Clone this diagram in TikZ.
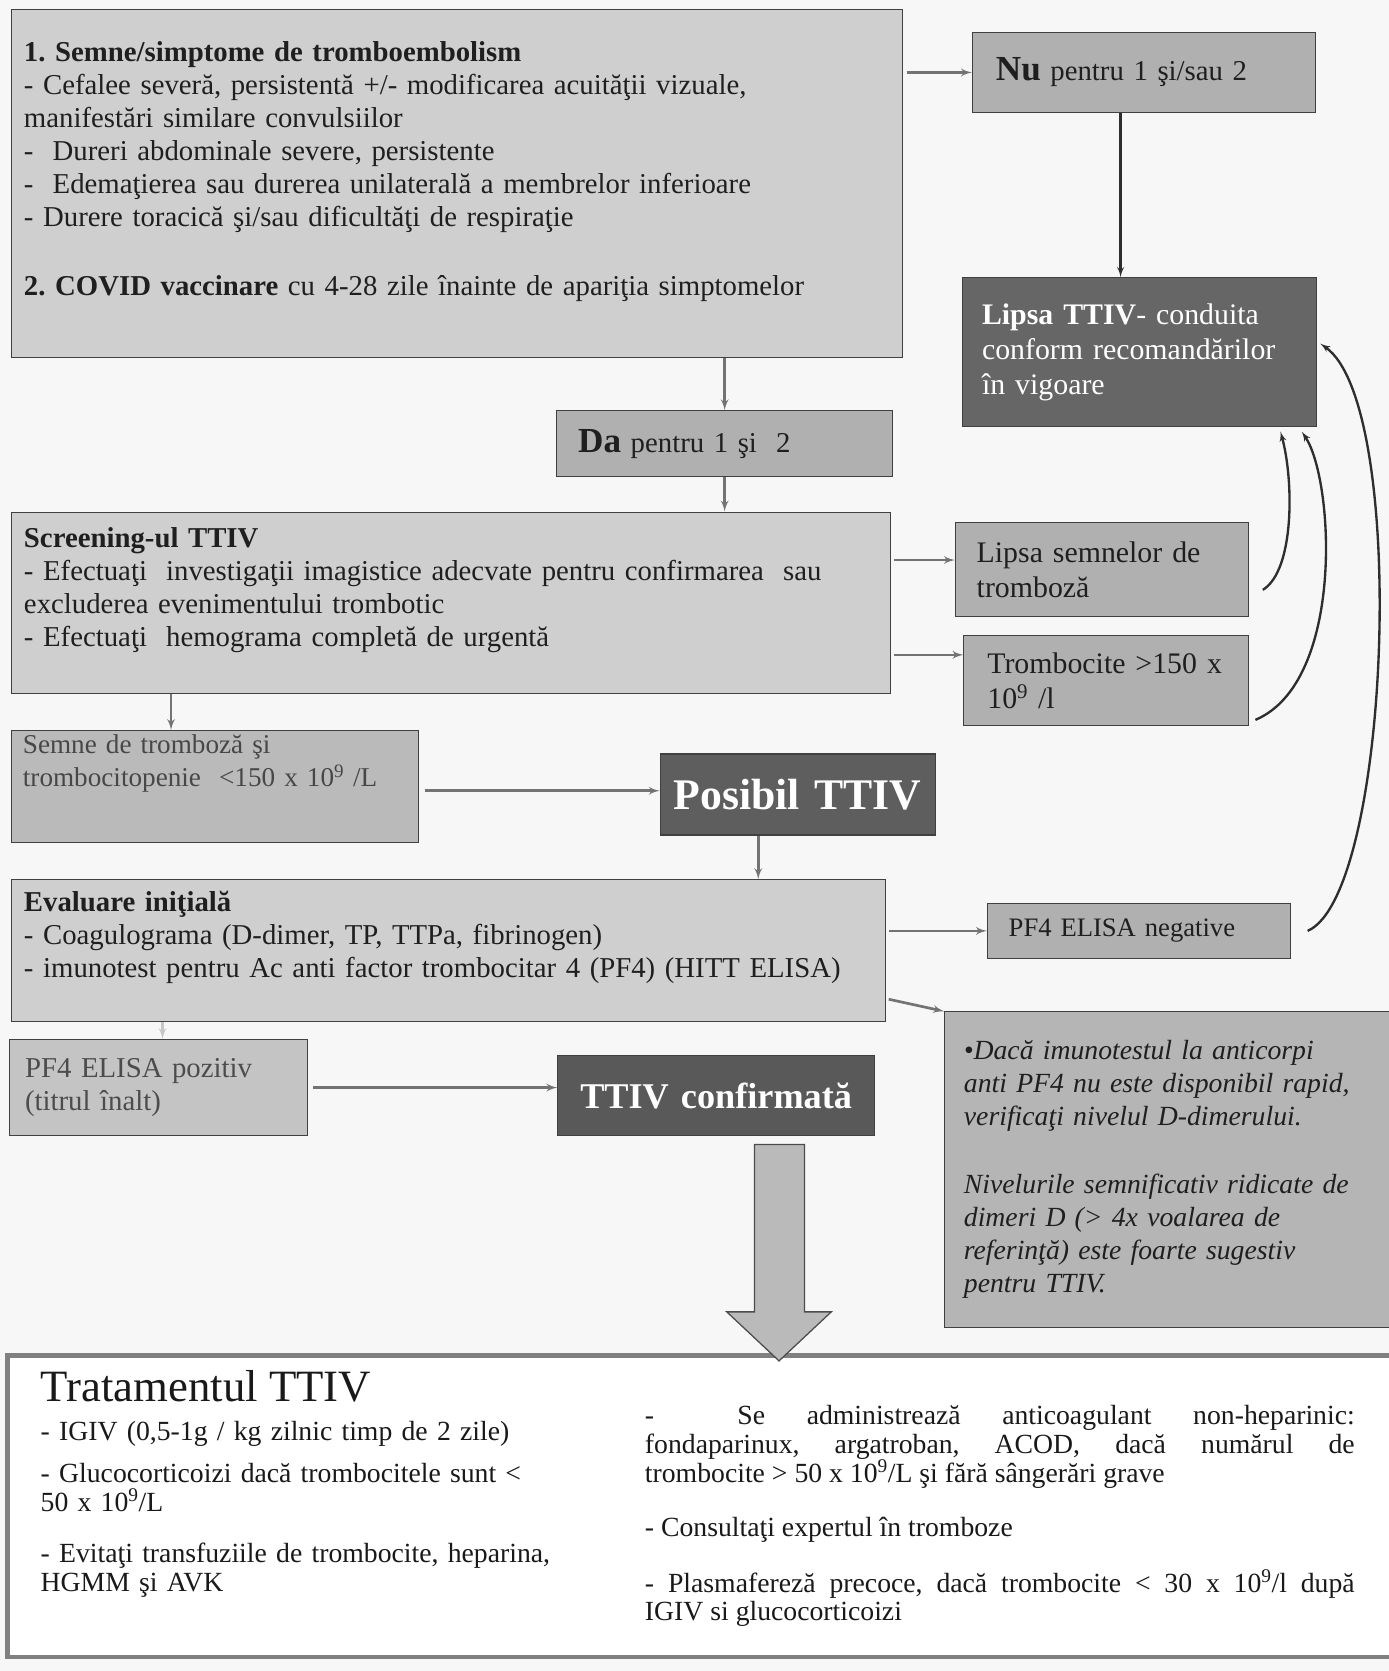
\documentclass[tikz,border=0pt]{standalone}
\usepackage{fontspec}
\setmainfont{Liberation Serif}
\usepackage{tikz}
\usetikzlibrary{arrows}
\frenchspacing

\begin{document}
\begin{tikzpicture}[x=1pt,y=-1pt]
    \tikzset{box/.style = {draw=black!75, line width=1pt, anchor=north west, align=left, inner xsep=12pt, inner ysep=4pt, text=black!88, font=\fontsize{27}{31}\selectfont}}
    \tikzset{light/.style = {box, fill=black!19}}
    \tikzset{mid/.style = {box, fill=black!31}}
    \tikzset{dark/.style = {box, fill=black!60, text=white}}
    \tikzset{txt/.style = {anchor=base west, inner sep=0pt, text=black!90}}
    \tikzset{edge/.style = {->, > = latex', line width=2.5pt, draw=black!55}}
    \tikzset{back/.style = {->, > = latex', line width=2.2pt, draw=black!82}}
    % page
    \fill[black!3] (0,0) rectangle (1303,1568);
    \useasboundingbox (0,0) rectangle (1303,1568);
    % vertices
    \node[light, minimum width=836pt, minimum height=327pt, text width=812pt] (symp) at (10,8)
        {\textbf{1. Semne/simptome de tromboembolism}\\
         - Cefalee severă, persistentă +/- modificarea acuităţii vizuale,\\
         manifestări similare convulsiilor\\
         -\ \ Dureri abdominale severe, persistente\\
         -\ \ Edemaţierea sau durerea unilaterală a membrelor inferioare\\
         - Durere toracică şi/sau dificultăţi de respiraţie\\[34pt]
         \textbf{2. COVID vaccinare} cu 4-28 zile înainte de apariţia simptomelor\\[-3pt]\mbox{}};
    \node[mid, minimum width=322pt, minimum height=75pt, inner xsep=22pt, text width=278pt] (nu) at (912,30)
        {{\fontsize{33}{31}\selectfont\bfseries Nu} pentru 1 şi/sau 2};
    \node[dark, minimum width=332pt, minimum height=140pt, inner xsep=18pt, text width=296pt, font=\fontsize{28}{33}\selectfont] (lipsa) at (903,260)
        {\textbf{Lipsa TTIV}- conduita\\ conform recomandărilor\\ în vigoare};
    \node[mid, minimum width=315pt, minimum height=62pt, inner xsep=20pt, text width=275pt] (da) at (522,385)
        {{\fontsize{33}{31}\selectfont\bfseries Da} pentru 1 şi\ \ 2};
    \node[light, minimum width=825pt, minimum height=170pt, text width=801pt] (scr) at (10,480)
        {\textbf{Screening-ul TTIV}\\
         - Efectuaţi\ \ investigaţii imagistice adecvate pentru confirmarea\ \ sau\\
         excluderea evenimentului trombotic\\
         - Efectuaţi\ \ hemograma completă de urgentă\\[-1pt]\mbox{}};
    \node[mid, minimum width=275pt, minimum height=88pt, inner xsep=20pt, text width=235pt, font=\fontsize{28}{33}\selectfont] (lsem) at (896,490)
        {Lipsa semnelor de\\ tromboză};
    \node[mid, minimum width=267pt, minimum height=84pt, inner xsep=22pt, text width=223pt, font=\fontsize{28}{33}\selectfont] (trb) at (904,596)
        {Trombocite >150 x\\ 10\textsuperscript{9} /l};
    \node[mid, fill=black!27, text=black!72, minimum width=382pt, minimum height=105pt, inner xsep=11pt, text width=360pt, font=\fontsize{25.5}{31}\selectfont] (semne) at (10,685)
        {Semne de tromboză şi\\ trombocitopenie\ \ <150 x 10\textsuperscript{9} /L\\[17pt]\mbox{}};
    \node[dark, fill=black!63, minimum width=258pt, minimum height=76pt, inner xsep=6pt, text width=246pt, align=center, font=\fontsize{41}{44}\selectfont\bfseries] (pos) at (619,707)
        {Posibil TTIV};
    \node[light, minimum width=820pt, minimum height=133pt, text width=796pt] (eval) at (10,825)
        {\textbf{Evaluare iniţială}\\
         - Coagulograma (D-dimer, TP, TTPa, fibrinogen)\\
         - imunotest pentru Ac anti factor trombocitar 4 (PF4) (HITT ELISA)\\[0pt]\mbox{}};
    \node[mid, minimum width=284pt, minimum height=52pt, inner xsep=20pt, text width=244pt, font=\fontsize{25}{29}\selectfont] (neg) at (926,847)
        {PF4 ELISA negative};
    \node[mid, fill=black!29, minimum width=417pt, minimum height=296pt, inner xsep=18pt, text width=381pt, font=\fontsize{26}{31}\selectfont\itshape] (daca) at (886,949)
        {•Dacă imunotestul la anticorpi\\
         anti PF4 nu este disponibil rapid,\\
         verificaţi nivelul D-dimerului.\\[33pt]
         Nivelurile semnificativ ridicate de\\
         dimeri D (> 4x voalarea de\\
         referinţă) este foarte sugestiv\\
         pentru TTIV.};
    \node[light, fill=black!23, text=black!70, minimum width=280pt, minimum height=90pt, inner xsep=15pt, text width=250pt] (poz) at (8,975)
        {PF4 ELISA pozitiv\\ (titrul înalt)};
    \node[dark, fill=black!65, minimum width=297pt, minimum height=75pt, inner xsep=6pt, text width=285pt, align=center, font=\fontsize{34}{38}\selectfont\bfseries] (conf) at (523,990)
        {TTIV confirmată};
    \node[draw=black!50, line width=4pt, fill=white, anchor=north west, minimum width=1298pt, minimum height=283pt] (trat) at (5,1270) {};
    \node[txt, font=\fontsize{42}{44}\selectfont] (tratH) at (38,1315) {Tratamentul TTIV};
    \node[txt, text width=540pt, align=left, font=\fontsize{26}{27}\selectfont] (tratL) at (38,1352)
        {- IGIV (0,5-1g / kg zilnic timp de 2 zile)\\[12pt]
         - Glucocorticoizi dacă trombocitele sunt <\\
         50 x 10\textsuperscript{9}/L\\[21pt]
         - Evitaţi transfuziile de trombocite, heparina,\\
         HGMM şi AVK};
    \node[txt, text width=666pt, align=justify, font=\fontsize{26}{27}\selectfont] (tratR) at (605,1337)
        {\parindent=0pt -\ \ Se administrează anticoagulant non-heparinic:\linebreak
         fondaparinux, argatroban, ACOD, dacă numărul de\linebreak
         trombocite > 50 x 10\textsuperscript{9}/L şi fără sângerări grave\par\vspace{24pt}
         - Consultaţi expertul în tromboze\par\vspace{25pt}
         - Plasmafereză precoce, dacă trombocite < 30 x 10\textsuperscript{9}/l după\linebreak
         IGIV si glucocorticoizi};
    % block arrow
    \draw[fill=black!27, draw=black!70, line width=1.2pt]
        (708,1074) -- (755,1074) -- (755,1231) -- (780,1231) -- (731,1277)
        -- (682,1231) -- (708,1231) -- cycle;
    %edges
    \draw[edge, shorten <=4pt] (symp.east |- nu.west) -- (nu.west);
    \draw[back] ([xshift=-22pt]nu.south) -- ([xshift=-22pt]nu.south |- lipsa.north);
    \draw[edge] (da.north |- symp.south) -- (da.north);
    \draw[edge] (da.south) -- (da.south |- scr.north);
    \draw[edge, shorten <=3pt] ([yshift=9pt]lsem.west -| scr.east) -- ([yshift=9pt]lsem.west);
    \draw[edge, shorten <=3pt] ([yshift=24pt]trb.west -| scr.east) -- ([yshift=24pt]trb.west);
    \draw[edge] ([xshift=-41pt]semne.north |- scr.south) -- ([xshift=-41pt]semne.north);
    \draw[edge, shorten <=6pt] ([yshift=-4pt]semne.east) -- ([yshift=-4pt]semne.east -| pos.west);
    \draw[edge] ([xshift=-37pt]pos.south) -- ([xshift=-37pt]pos.south |- eval.north);
    \draw[edge, shorten <=3pt] (neg.west -| eval.east) -- (neg.west);
    \draw[edge, shorten <=3pt] ([yshift=-45pt]eval.east) -- (daca.north west);
    \draw[edge, draw=black!22] ([xshift=4pt]poz.north |- eval.south) -- ([xshift=4pt]poz.north);
    \draw[edge, shorten <=5pt] (poz.east) -- (poz.east -| conf.west);
    % back to Lipsa TTIV
    \draw[back] ([xshift=13pt,yshift=-19pt]lsem.east) .. controls (1215,535) and (1214,450) .. ([xshift=132pt,yshift=-4pt]lipsa.south);
    \draw[back] ([xshift=6pt,yshift=-37pt]trb.east) .. controls (1262,640) and (1252,450) .. ([xshift=152pt,yshift=-4pt]lipsa.south);
    \draw[back] ([xshift=16pt]neg.east) .. controls (1305,840) and (1322,380) .. ([xshift=3pt,yshift=8pt]lipsa.east);
\end{tikzpicture}
\end{document}
